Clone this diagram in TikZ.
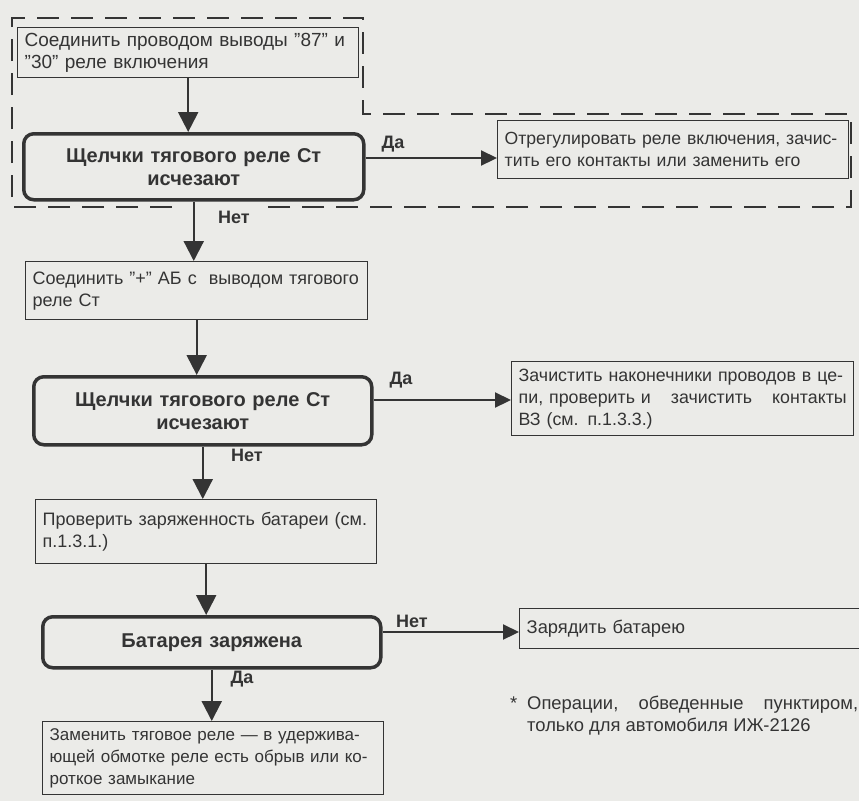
\documentclass[tikz,border=0pt]{standalone}
\usepackage{fontspec}
\setmainfont{Liberation Sans}
\usetikzlibrary{arrows.meta,calc}
\definecolor{paper}{RGB}{235,235,232}
\definecolor{ink}{RGB}{52,52,52}
\newcommand{\fsz}[1]{\fontsize{#1}{22}\selectfont}
\begin{document}
\begin{tikzpicture}[x=1pt,y=-1pt,
  every node/.style={text=ink},
  opbox/.style={draw=ink, line width=1.4pt, fill=paper, anchor=north west,
    inner xsep=7pt, inner ysep=3pt, align=left},
  decbox/.style={draw=ink, line width=3.5pt, rounded corners=10pt, fill=paper,
    anchor=north west, align=center, font=\bfseries\fontsize{20}{23}\selectfont},
  varrow/.style={draw=ink, line width=2.2pt, -{Triangle[width=20pt,length=20pt]}},
  harrow/.style={draw=ink, line width=2.2pt, -{Triangle[width=15pt,length=16pt]}},
  lbl/.style={font=\bfseries\fontsize{18}{20}\selectfont},
  dashline/.style={draw=ink, line width=1.8pt, dash pattern=on 22pt off 12pt}
]
\fill[paper] (0,0) rectangle (859,801);
\useasboundingbox (0,0) rectangle (859,801);

% dashed outline (operations only for IZh-2126)
\draw[dashline] (172,207) -- (12,207) -- (12,18) -- (363,18) -- (363,114)
  -- (851,114) -- (851,207) -- (262,207);

\node[opbox, font=\fsz{19}, minimum width=341pt, minimum height=50pt, text width=327pt] (b1) at (17,27)
  {\mbox{Соединить проводом выводы "87" и}\\\mbox{"30" реле включения}};
\node[decbox, minimum width=340pt, minimum height=66pt, text width=320pt] (d1) at (22,132)
  {Щелчки тягового реле Ст\\исчезают};
\node[opbox, font=\fsz{17.6}, minimum width=351pt, minimum height=58pt, text width=337pt] (b2) at (497,120)
  {\mbox{Отрегулировать реле включения, зачис-}\\\mbox{тить его контакты или заменить его}};
\node[opbox, font=\fsz{18}, minimum width=342pt, minimum height=58pt, text width=328pt] (b3) at (25,261)
  {\mbox{Соединить "+" АБ с\ \ выводом тягового}\\\mbox{реле Ст}};
\node[decbox, minimum width=338pt, minimum height=68pt, text width=318pt] (d2) at (32,375)
  {Щелчки тягового реле Ст\\исчезают};
\node[opbox, font=\fsz{17.8}, minimum width=342pt, minimum height=74pt, text width=328pt] (b4) at (511,361)
  {\mbox{Зачистить наконечники проводов в це-}\\\makebox[328pt][l]{пи, проверить и\hfill зачистить\hfill контакты}\\\mbox{ВЗ (см. п.1.3.3.)}};
\node[opbox, font=\fsz{18}, minimum width=341pt, minimum height=64pt, text width=327pt] (b5) at (35,499)
  {\mbox{Проверить заряженность батареи (см.}\\\mbox{п.1.3.1.)}};
\node[decbox, minimum width=338pt, minimum height=51pt, text width=318pt] (d3) at (41,615)
  {Батарея заряжена};
\node[opbox, font=\fsz{18.3}, minimum width=360pt, minimum height=40pt, text width=346pt] (b6) at (519,608)
  {\mbox{Зарядить батарею}};
\node[opbox, font=\fsz{17}, minimum width=341pt, minimum height=73pt, text width=327pt] (b7) at (42,721)
  {\mbox{Заменить тяговое реле — в удержива-}\\\mbox{ющей обмотке реле есть обрыв или ко-}\\\mbox{роткое замыкание}};

% vertical connectors
\draw[varrow] (b1.south) -- (b1.south |- d1.north);
\draw[varrow] (d1.south) -- (d1.south |- b3.north);
\draw[varrow] (b3.south) -- (b3.south |- d2.north);
\draw[varrow] (d2.south) -- (d2.south |- b5.north);
\draw[varrow] (b5.south) -- (b5.south |- d3.north);
\draw[varrow] (d3.south) -- (d3.south |- b7.north);

% horizontal connectors
\coordinate (h1) at (0,158);
\coordinate (h2) at (0,400);
\coordinate (h3) at (0,632);
\draw[harrow] (d1.east |- h1) -- (b2.west |- h1);
\draw[harrow] (d2.east |- h2) -- (b4.west |- h2);
\draw[harrow] (d3.east |- h3) -- (b6.west |- h3);

% labels
\node[lbl] (l1) at (393,144) {Да};
\node[lbl] (l2) at (234,217) {Нет};
\node[lbl] (l3) at (401,380) {Да};
\node[lbl] (l4) at (247,455) {Нет};
\node[lbl] (l5) at (412,621) {Нет};
\node[lbl] (l6) at (242,679) {Да};

% footnote
\node[font=\fsz{18.4}, anchor=north west, align=left, inner sep=0pt] (fn) at (510,696)
  {\makebox[17pt][l]{*}\makebox[331pt][l]{Операции,\hfill обведенные\hfill пунктиром,}\\
   \hspace*{17pt}только для автомобиля ИЖ-2126};
\end{tikzpicture}
\end{document}
